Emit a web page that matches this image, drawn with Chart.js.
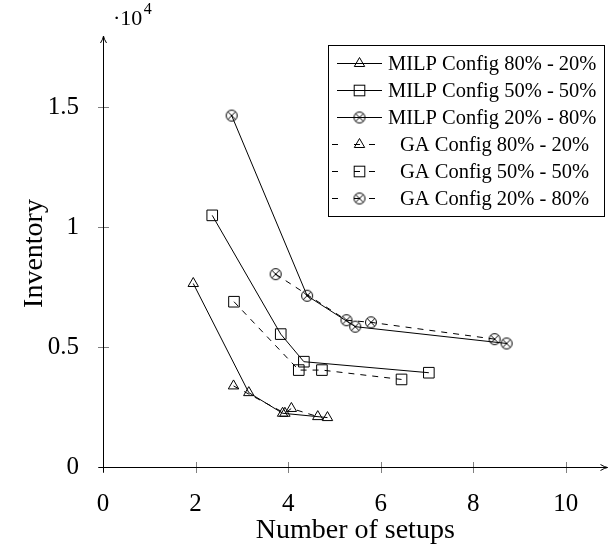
<!DOCTYPE html>
<html lang="en">
<head>
  <meta charset="UTF-8">
  <title>Inventory vs number of setups</title>
  <script src="https://cdn.jsdelivr.net/npm/chart.js"></script>
  <style>
    body { margin: 0; background: #fff; }
    canvas { display: block; }
  </style>
</head>
<body>
  <canvas id="chart" width="616" height="547"></canvas>

  <script>
    // values
    const seriesLabels = [
      "MILP Config 80% - 20%",
      "MILP Config 50% - 50%",
      "MILP Config 20% - 80%",
      "GA Config 80% - 20%",
      "GA Config 50% - 50%",
      "GA Config 20% - 80%"
    ];

    const milp8020X = [1.95, 3.15, 3.88, 4.85];
    const milp8020Y = [7650, 3100, 2240, 2060];
    const milp5050X = [2.36, 3.84, 4.34, 7.04];
    const milp5050Y = [10490, 5540, 4390, 3930];
    const milp2080X = [2.78, 4.41, 5.45, 8.72];
    const milp2080Y = [14650, 7140, 5850, 5150];

    const ga8020X = [2.82, 3.93, 4.07, 4.64];
    const ga8020Y = [3380, 2240, 2440, 2100];
    const ga5050X = [2.83, 4.23, 4.73, 6.45];
    const ga5050Y = [6890, 4040, 4040, 3650];
    const ga2080X = [3.73, 5.26, 5.79, 8.46];
    const ga2080Y = [8040, 6120, 6030, 5330];

    const xTickValues = [0, 2, 4, 6, 8, 10];
    const yTickValues = [0, 5000, 10000, 15000];

    const serif = "'Liberation Serif', 'DejaVu Serif', serif";

    function toPoints(xs, ys) {
      return xs.map((x, i) => ({ x: x, y: ys[i] }));
    }

    // circle with a cross in it (pgfplots "otimes")
    function otimes() {
      const c = document.createElement("canvas");
      c.width = 14; c.height = 14;
      const g = c.getContext("2d");
      g.strokeStyle = "#000";
      g.lineWidth = 1;
      g.beginPath();
      g.arc(7, 7, 5.5, 0, Math.PI * 2);
      g.stroke();
      const d = 5.5 * Math.SQRT1_2;
      g.beginPath();
      g.moveTo(7 - d, 7 - d); g.lineTo(7 + d, 7 + d);
      g.moveTo(7 + d, 7 - d); g.lineTo(7 - d, 7 + d);
      g.stroke();
      return c;
    }
    const otimesMark = otimes();

    function series(i, xs, ys, mark, dashed) {
      return {
        label: seriesLabels[i],
        data: toPoints(xs, ys),
        borderColor: "#000",
        borderWidth: 1,
        borderDash: dashed ? [6, 6] : [],
        backgroundColor: "rgba(0,0,0,0)",
        pointBackgroundColor: "rgba(0,0,0,0)",
        pointBorderColor: "#000",
        pointBorderWidth: 1,
        pointStyle: mark === "circle" ? otimesMark : mark,
        pointRadius: mark === "rect" ? 7.5 : 6,
        fill: false,
        tension: 0
      };
    }

    function drawMark(ctx, mark, x, y) {
      ctx.save();
      ctx.setLineDash([]);
      ctx.strokeStyle = "#000";
      ctx.lineWidth = 1;
      if (mark === "triangle") {
        ctx.beginPath();
        ctx.moveTo(x, y - 6);
        ctx.lineTo(x + 5.2, y + 3);
        ctx.lineTo(x - 5.2, y + 3);
        ctx.closePath();
        ctx.stroke();
      } else if (mark === "rect") {
        ctx.strokeRect(x - 5.3, y - 5.3, 10.6, 10.6);
      } else {
        ctx.drawImage(otimesMark, x - 7, y - 7);
      }
      ctx.restore();
    }

    const marks = ["triangle", "rect", "circle", "triangle", "rect", "circle"];

    const decor = {
      id: "decor",
      beforeDatasetsDraw(chart) {
        const ctx = chart.ctx;
        const a = chart.chartArea;
        const xs = chart.scales.x, ys = chart.scales.y;
        const left = Math.round(a.left) + 0.5;
        const bottom = Math.round(a.bottom) + 0.5;
        ctx.save();

        // tick marks
        ctx.strokeStyle = "#808080";
        ctx.lineWidth = 1;
        ctx.beginPath();
        ys.ticks.forEach(t => {
          const p = Math.round(ys.getPixelForValue(t.value)) + 0.5;
          ctx.moveTo(left - 5.5, p); ctx.lineTo(left + 5.5, p);
        });
        xs.ticks.forEach(t => {
          const p = Math.round(xs.getPixelForValue(t.value)) + 0.5;
          ctx.moveTo(p, bottom - 5.5); ctx.lineTo(p, bottom + 5.5);
        });
        ctx.stroke();

        // axis lines with arrows
        ctx.strokeStyle = "#000";
        ctx.beginPath();
        ctx.moveTo(left, bottom + 5);
        ctx.lineTo(left, a.top - 4);
        ctx.moveTo(left - 5, bottom);
        ctx.lineTo(a.right, bottom);
        ctx.stroke();

        ctx.beginPath();
        ctx.moveTo(left - 3, a.top + 3);
        ctx.quadraticCurveTo(left - 0.5, a.top - 1, left, a.top - 4);
        ctx.quadraticCurveTo(left + 0.5, a.top - 1, left + 3, a.top + 3);
        ctx.moveTo(a.right - 7, bottom - 3);
        ctx.quadraticCurveTo(a.right - 3, bottom - 0.5, a.right, bottom);
        ctx.quadraticCurveTo(a.right - 3, bottom + 0.5, a.right - 7, bottom + 3);
        ctx.stroke();

        // scale factor label
        ctx.fillStyle = "#000";
        ctx.textBaseline = "alphabetic";
        ctx.textAlign = "left";
        ctx.font = "22px " + serif;
        ctx.fillText("\u00b710", 113, 24.5);
        const w = ctx.measureText("\u00b710").width;
        ctx.font = "16px " + serif;
        ctx.fillText("4", 113 + w + 1.5, 14);
        ctx.restore();
      },
      afterDraw(chart) {
        const ctx = chart.ctx;
        const boxL = 328.5, boxT = 45.5, boxR = 604.5, boxB = 216.5;
        ctx.save();
        ctx.fillStyle = "#fff";
        ctx.fillRect(boxL, boxT, boxR - boxL, boxB - boxT);
        ctx.strokeStyle = "#000";
        ctx.lineWidth = 1;
        ctx.strokeRect(boxL, boxT, boxR - boxL, boxB - boxT);

        const rowY = [63, 90, 117, 144, 171, 198];
        chart.data.datasets.forEach((ds, i) => {
          const y = rowY[i] + 0.5;
          const dashed = ds.borderDash.length > 0;
          ctx.strokeStyle = "#000";
          ctx.lineWidth = 1;
          ctx.setLineDash([]);
          ctx.beginPath();
          if (dashed) {
            [[332, 338], [354, 360], [369, 375]].forEach(s => {
              ctx.moveTo(s[0], y); ctx.lineTo(s[1], y);
            });
          } else {
            ctx.moveTo(337, y); ctx.lineTo(382, y);
          }
          ctx.stroke();
          drawMark(ctx, marks[i], 359.5, y);

          ctx.fillStyle = "#000";
          ctx.font = "20.5px " + serif;
          ctx.textBaseline = "middle";
          ctx.textAlign = "left";
          ctx.fillText(ds.label, dashed ? 400 : 388, y + 1);
        });
        ctx.restore();
      }
    };

    new Chart(document.getElementById("chart"), {
      type: "line",
      data: {
        datasets: [
          series(0, milp8020X, milp8020Y, "triangle", false),
          series(1, milp5050X, milp5050Y, "rect", false),
          series(2, milp2080X, milp2080Y, "circle", false),
          series(3, ga8020X, ga8020Y, "triangle", true),
          series(4, ga5050X, ga5050Y, "rect", true),
          series(5, ga2080X, ga2080Y, "circle", true)
        ]
      },
      options: {
        responsive: false,
        animation: false,
        layout: { padding: { top: 40, right: 3, left: 0, bottom: 0 } },
        plugins: {
          legend: { display: false },
          tooltip: { enabled: false }
        },
        scales: {
          x: {
            type: "linear",
            min: 0,
            max: 10.9,
            afterBuildTicks(s) { s.ticks = xTickValues.map(v => ({ value: v })); },
            afterFit(s) { s.height = 80; },
            grid: { display: false },
            border: { display: false },
            ticks: {
              padding: 14,
              maxRotation: 0,
              color: "#000",
              font: { family: serif, size: 25 }
            },
            title: {
              display: true,
              text: "Number of setups",
              color: "#000",
              font: { family: serif, size: 28 },
              padding: { top: 0, bottom: 0 }
            }
          },
          y: {
            type: "linear",
            min: 0,
            max: 17800,
            afterBuildTicks(s) { s.ticks = yTickValues.map(v => ({ value: v })); },
            afterFit(s) { s.width = 103; },
            grid: { display: false },
            border: { display: false },
            ticks: {
              padding: 16,
              color: "#000",
              font: { family: serif, size: 25 },
              callback: v => String(v / 1e4)
            },
            title: {
              display: true,
              text: "Inventory",
              color: "#000",
              font: { family: serif, size: 28 },
              padding: { top: 18, bottom: 0 }
            }
          }
        }
      },
      plugins: [decor]
    });
  </script>
</body>
</html>
